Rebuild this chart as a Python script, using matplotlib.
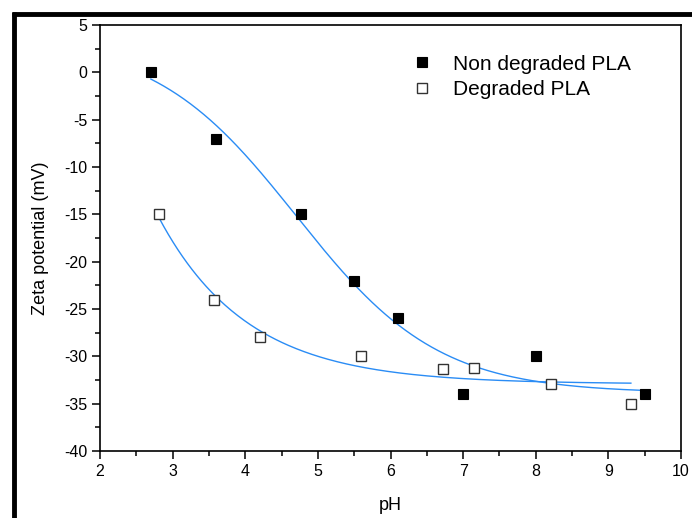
import numpy as np
import matplotlib
matplotlib.use("Agg")
import matplotlib.pyplot as plt
from matplotlib.lines import Line2D
from matplotlib.ticker import MultipleLocator

plt.rcParams['font.family'] = ['Liberation Sans', 'DejaVu Sans']
plt.rcParams['axes.unicode_minus'] = False

# values
ph_non = [2.70, 3.60, 4.77, 5.50, 6.10, 7.00, 8.00, 9.50]
zeta_non = [0.0, -7.0, -15.0, -22.0, -26.0, -34.0, -30.0, -34.0]
ph_deg = [2.81, 3.57, 4.20, 5.60, 6.72, 7.15, 8.21, 9.31]
zeta_deg = [-15.0, -24.0, -28.0, -30.0, -31.3, -31.2, -32.9, -35.0]

label_non = "Non degraded PLA"
label_deg = "Degraded PLA"
blue = "#2a8cf5"


def fit_boltzmann(x, y):
    # crude grid search, amplitudes solved linearly
    x = np.asarray(x); y = np.asarray(y)
    best = None
    for x0 in np.linspace(3, 7, 161):
        for dx in np.linspace(0.3, 3, 136):
            s = 1 / (1 + np.exp((x - x0) / dx))
            M = np.column_stack([s, 1 - s])
            coef, *_ = np.linalg.lstsq(M, y, rcond=None)
            err = np.sum((M @ coef - y) ** 2)
            if best is None or err < best[0]:
                best = (err, x0, dx, coef)
    _, x0, dx, (a1, a2) = best
    return lambda t: a2 + (a1 - a2) / (1 + np.exp((t - x0) / dx))


def fit_expdecay(x, y):
    x = np.asarray(x); y = np.asarray(y)
    best = None
    for tau in np.linspace(0.2, 5, 481):
        e = np.exp(-x / tau)
        M = np.column_stack([np.ones_like(x), e])
        coef, *_ = np.linalg.lstsq(M, y, rcond=None)
        err = np.sum((M @ coef - y) ** 2)
        if best is None or err < best[0]:
            best = (err, tau, coef)
    _, tau, (y0, a) = best
    return lambda t: y0 + a * np.exp(-t / tau)


f_non = fit_boltzmann(ph_non, zeta_non)
f_deg = fit_expdecay(ph_deg, zeta_deg)
xs_non = np.linspace(min(ph_non), max(ph_non), 300)
xs_deg = np.linspace(min(ph_deg), max(ph_deg), 300)

fig = plt.figure(figsize=(6.92, 5.18), dpi=100)
ax = fig.add_axes([100 / 692, 1 - 451 / 518, 581 / 692, 426 / 518])

ax.plot(xs_non, f_non(xs_non), color=blue, lw=1.0, zorder=2)
ax.plot(xs_deg, f_deg(xs_deg), color=blue, lw=1.0, zorder=2)
ax.plot(ph_non, zeta_non, 's', color='black', ms=6.5, mec='black', mew=0.8,
        ls='none', label=label_non, zorder=3)
ax.plot(ph_deg, zeta_deg, 's', mfc='white', mec='#333333', ms=6.5, mew=1.0,
        ls='none', label=label_deg, zorder=3)

ax.set_xlim(2, 10)
ax.set_ylim(-40, 5)
ax.xaxis.set_major_locator(MultipleLocator(1))
ax.xaxis.set_minor_locator(MultipleLocator(0.5))
ax.yaxis.set_major_locator(MultipleLocator(5))
ax.yaxis.set_minor_locator(MultipleLocator(2.5))
ax.tick_params(which='major', direction='out', length=6, width=1.1,
               labelsize=11.5, top=False, right=False, pad=3)
ax.tick_params(which='minor', direction='out', length=3.5, width=1.1,
               top=False, right=False)
for sp in ax.spines.values():
    sp.set_linewidth(1.2)

ax.set_xlabel("pH", fontsize=13, labelpad=13)
ax.set_ylabel("Zeta potential (mV)", fontsize=13, labelpad=11)

ax.legend(loc='upper left', bbox_to_anchor=(0.522, 0.95), frameon=False,
          fontsize=15, handlelength=1.0, handletextpad=1.0, labelspacing=0.3,
          borderaxespad=0)

# thick frame along the left and top edges of the figure
fig.add_artist(Line2D([14 / 692, 14 / 692], [0, 1 - 12 / 518],
                      transform=fig.transFigure, color='black', lw=3.5,
                      solid_capstyle='butt'))
fig.add_artist(Line2D([12 / 692, 1], [1 - 14 / 518, 1 - 14 / 518],
                      transform=fig.transFigure, color='black', lw=3.5,
                      solid_capstyle='butt'))

fig.savefig("out.png", dpi=100)
